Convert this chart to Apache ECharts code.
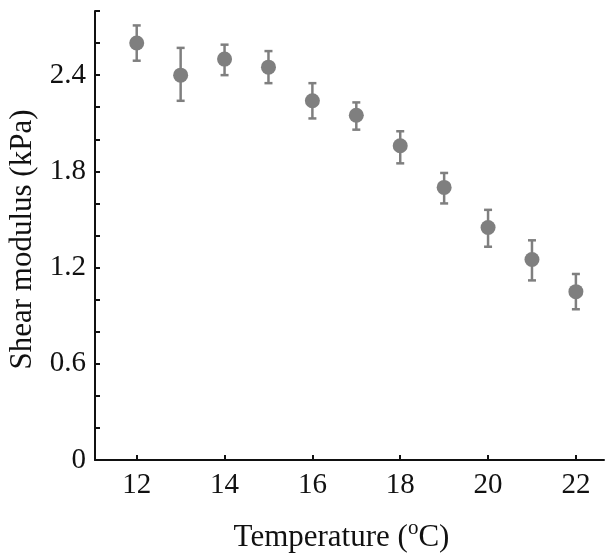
<!DOCTYPE html>
<html><head><meta charset="utf-8">
<script src="https://cdn.jsdelivr.net/npm/echarts@6/dist/echarts.min.js"></script>
<style>html,body{margin:0;padding:0;background:#fff}#c{width:612px;height:558px}</style>
</head><body><div id="c"></div>
<script>
const temperatures = [12, 13, 14, 15, 16, 17, 18, 19, 20, 21, 22];
const shearModulus = [2.60, 2.40, 2.50, 2.45, 2.24, 2.15, 1.96, 1.70, 1.45, 1.25, 1.05];
const errLow = [2.49, 2.24, 2.40, 2.35, 2.13, 2.06, 1.85, 1.60, 1.33, 1.12, 0.94];
const errHigh = [2.71, 2.57, 2.59, 2.55, 2.35, 2.23, 2.05, 1.79, 1.56, 1.37, 1.16];
const xTicks = [12, 14, 16, 18, 20, 22];
const yTicks = [0, 0.2, 0.4, 0.6, 0.8, 1.0, 1.2, 1.4, 1.6, 1.8, 2.0, 2.2, 2.4, 2.6, 2.8];
const yLabels = [0, 0.6, 1.2, 1.8, 2.4];

const pts = temperatures.map((t, i) => [t, shearModulus[i]]);
const errs = temperatures.map((t, i) => [t, errLow[i], errHigh[i]]);
const gray = '#7f7f7f';
const font = 'Liberation Serif';

const chart = echarts.init(document.getElementById('c'));
chart.setOption({
  animation: false,
  backgroundColor: '#fff',
  grid: { left: 95, right: 8, top: 11, bottom: 98, outerBoundsMode: 'none', containLabel: false },
  xAxis: {
    type: 'value', min: 11.05, max: 22.64,
    name: 'Temperature ({s|o}C)', nameLocation: 'middle', nameGap: 62,
    nameTextStyle: { fontFamily: font, fontSize: 31, color: '#111', padding: [0, 16, 0, 0],
      rich: { s: { fontFamily: font, fontSize: 21, lineHeight: 21, verticalAlign: 'bottom', padding: [0,0,14,0], color: '#111' } } },
    axisLine: { lineStyle: { color: '#111', width: 2 } },
    axisTick: { inside: true, length: 5, customValues: xTicks, lineStyle: { color: '#111', width: 2 } },
    axisLabel: { customValues: xTicks, fontFamily: font, fontSize: 29, color: '#111', margin: 11 },
    splitLine: { show: false }
  },
  yAxis: {
    type: 'value', min: 0, max: 2.8,
    name: 'Shear modulus (kPa)', nameLocation: 'middle', nameGap: 57,
    nameTextStyle: { fontFamily: font, fontSize: 31, color: '#111', padding: [0, 8, 0, 0] },
    axisLine: { show: true, lineStyle: { color: '#111', width: 2 } },
    axisTick: { show: true, inside: true, length: 5, customValues: yTicks, lineStyle: { color: '#111', width: 2 } },
    axisLabel: { customValues: yLabels, fontFamily: font, fontSize: 29, color: '#111', margin: 9,
      formatter: v => String(Math.round(v * 10) / 10) },
    splitLine: { show: false }
  },
  series: [
    {
      type: 'custom',
      data: errs,
      renderItem: (params, api) => {
        const x = api.value(0);
        const lo = api.coord([x, api.value(1)]);
        const hi = api.coord([x, api.value(2)]);
        const w = 4;
        const st = { stroke: gray, lineWidth: 2.5 };
        return { type: 'group', children: [
          { type: 'line', shape: { x1: lo[0], y1: lo[1], x2: hi[0], y2: hi[1] }, style: st },
          { type: 'line', shape: { x1: lo[0]-w, y1: lo[1], x2: lo[0]+w, y2: lo[1] }, style: st },
          { type: 'line', shape: { x1: hi[0]-w, y1: hi[1], x2: hi[0]+w, y2: hi[1] }, style: st }
        ]};
      },
      z: 2
    },
    {
      type: 'scatter', data: pts, symbol: 'circle', symbolSize: 15,
      itemStyle: { color: gray, opacity: 1 }, z: 3
    }
  ]
});
</script></body></html>
